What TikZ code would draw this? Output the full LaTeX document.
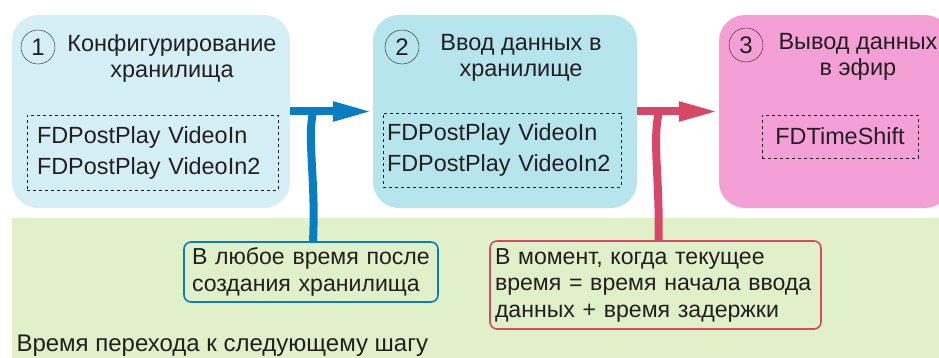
\documentclass[tikz,border=0pt]{standalone}
\usepackage{fontspec}
\setmainfont{Liberation Sans}
\usetikzlibrary{arrows.meta,positioning}
\definecolor{stepone}{HTML}{D5EFF6}
\definecolor{steptwo}{HTML}{B6E5EE}
\definecolor{stepthree}{HTML}{F4A0D7}
\definecolor{bandgreen}{HTML}{E0F0C9}
\definecolor{arrowblue}{HTML}{0A7DC2}
\definecolor{arrowred}{HTML}{D84668}
\definecolor{inktext}{HTML}{231F20}
\tikzset{
	stepbox/.style={rectangle,rounded corners=26pt,inner sep=0pt},
	num/.style={circle,draw=inktext,thin,minimum size=34pt,inner sep=0pt,font=\fontsize{24}{26}\selectfont},
	steptitle/.style={align=center,font=\fontsize{23.5}{26}\selectfont},
	modbox/.style={draw=inktext,dashed,thin,align=left,font=\fontsize{23.4}{31}\selectfont},
	hintbox/.style={rectangle,rounded corners=7pt,line width=1.6pt,fill=bandgreen,align=left,inner ysep=0pt,font=\fontsize{23.1}{26.5}\selectfont},
	nextarrow/.style={line width=8pt,-{Triangle[length=40pt,width=18pt]}},
	stem/.style={line width=8pt}
}
\begin{document}
\begin{tikzpicture}[x=1pt,y=-1pt,every node/.append style={text=inktext}]
	\clip (0,0) rectangle (939,358);
	%%% band
	\fill[bandgreen] (12,218) rectangle (939,358);
	\node[anchor=base west,font=\fontsize{24}{26}\selectfont] (when) at (13,351.5) {Время перехода к следующему шагу};
	
	%%% step 1
	\node[stepbox,fill=stepone,minimum width=278pt,minimum height=193pt] (s1) at (151,111.5) {};
	\node[num] (n1) at (38,47) {1};
	\node[steptitle] (t1) at (172,58) {Конфигурирование\\хранилища};
	\node[modbox,inner xsep=10pt,text width=231pt,minimum height=75pt] (m1) at (152.5,152.5) {FDPostPlay VideoIn\\FDPostPlay VideoIn2};
	
	%%% step 2
	\node[stepbox,fill=steptwo,minimum width=264pt,minimum height=193pt] (s2) at (505,111.5) {};
	\node[num] (n2) at (402,47) {2};
	\node[steptitle] (t2) at (521,58) {Ввод данных в\\хранилище};
	\node[modbox,inner xsep=4pt,text width=230pt,minimum height=74pt] (m2) at (502,150) {FDPostPlay VideoIn\\FDPostPlay VideoIn2};
	
	%%% step 3
	\node[stepbox,fill=stepthree,minimum width=232pt,minimum height=193pt] (s3) at (835,111.5) {};
	\node[num] (n3) at (746,45) {3};
	\node[steptitle] (t3) at (858,57) {Вывод данных\\в эфир};
	\node[modbox,align=center,minimum width=156pt,minimum height=43pt] (m3) at (840,136.5) {FDTimeShift};
	
	%%% conditions
	\node[hintbox,draw=arrowblue,inner xsep=8pt,text width=238pt,minimum height=60pt] (h1) at (311,272) {В любое время после\\создания хранилища};
	\node[hintbox,draw=arrowred,inner xsep=5pt,text width=321pt,minimum height=88pt] (h2) at (655.5,285) {В момент, когда текущее\\время = время начала ввода\\данных + время задержки};
	
	\draw[stem,arrowblue] ([xshift=2pt]h1.north) .. controls (316,180) and (307,140) .. (313,112);
	\draw[stem,arrowred] ([xshift=3pt]h2.north) .. controls (660,180) and (652,140) .. (659,112);
	\draw[nextarrow,arrowblue] (s1.east) -- (s2.west);
	\draw[nextarrow,arrowred] (s2.east) -- (s3.west);
\end{tikzpicture}
\end{document}
